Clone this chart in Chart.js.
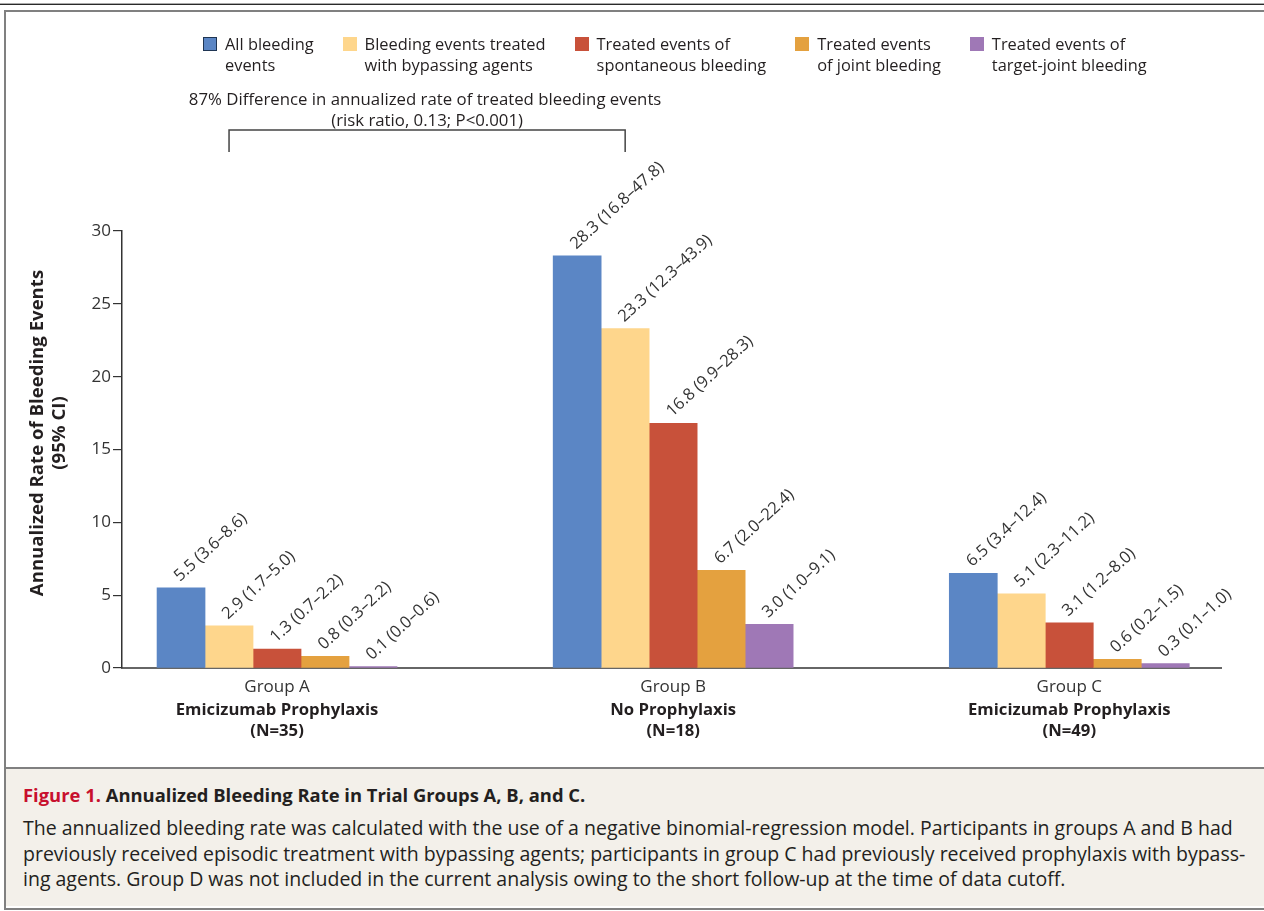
<!DOCTYPE html>
<html lang="en">
<head>
  <meta charset="UTF-8" />
  <title>Annualized Bleeding Rate in Trial Groups A, B, and C</title>
  <script src="https://cdn.jsdelivr.net/npm/chart.js"></script>
  <style>
    body { margin: 0; width: 1264px; height: 911px; overflow: hidden; position: relative; background: #fff; font-family: 'Open Sans', sans-serif; color: #231f20; }
    #topLine { position: absolute; left: 0; top: 3px; width: 1264px; height: 2px; background: #2a2a2a; border-top: 1px solid #aaa; box-sizing: border-box; }
    #frame { position: absolute; left: 4px; top: 10px; width: 1280px; height: 900px; border: 2px solid #808080; box-sizing: border-box; background: #fff; }
    #chartBox { position: relative; width: 1258px; height: 755px; }
    #legend { position: absolute; left: 197px; top: 21px; display: flex; gap: 29px; font-size: 16.4px; line-height: 21px; color: #231f20; }
    .item { display: flex; align-items: flex-start; }
    .swatch { width: 14px; height: 14px; margin: 4px 8px 0 0; box-sizing: border-box; }
    #caption { border-top: 2px solid #808080; background: #f3f0ea; height: 139px; padding: 12px 0 0 17px; box-sizing: border-box; white-space: nowrap; }
    #caption .title { font-weight: 700; font-size: 18.4px; line-height: 28px; margin-bottom: 6px; }
    #caption .title span { color: #c8102e; }
    #caption .body { font-size: 19.5px; line-height: 25.5px; }
  </style>
</head>
<body>
  <div id="topLine"></div>
  <div id="frame">
    <div id="chartBox">
      <canvas id="chart"></canvas>
      <div id="legend"></div>
    </div>
    <div id="caption">
      <div class="title"><span>Figure 1.</span> Annualized Bleeding Rate in Trial Groups A, B, and C.</div>
      <div class="body">The annualized bleeding rate was calculated with the use of a negative binomial-regression model. Participants in groups A and B had<br>previously received episodic treatment with bypassing agents; participants in group C had previously received prophylaxis with bypass-<br>ing agents. Group D was not included in the current analysis owing to the short follow-up at the time of data cutoff.</div>
    </div>
  </div>

  <script>
    // data
    const groups = ['Group A', 'Group B', 'Group C'];
    const groupNames = ['Emicizumab Prophylaxis', 'No Prophylaxis', 'Emicizumab Prophylaxis'];
    const groupN = ['(N=35)', '(N=18)', '(N=49)'];

    const seriesNames = [
      ['All bleeding', 'events'],
      ['Bleeding events treated', 'with bypassing agents'],
      ['Treated events of', 'spontaneous bleeding'],
      ['Treated events', 'of joint bleeding'],
      ['Treated events of', 'target-joint bleeding']
    ];
    const seriesColors = ['#5b86c5', '#fed68c', '#c8513a', '#e4a13f', '#9f78b6'];

    const allBleeding = [5.5, 28.3, 6.5];
    const allBleedingCI = ['3.6–8.6', '16.8–47.8', '3.4–12.4'];
    const bypassTreated = [2.9, 23.3, 5.1];
    const bypassTreatedCI = ['1.7–5.0', '12.3–43.9', '2.3–11.2'];
    const spontaneous = [1.3, 16.8, 3.1];
    const spontaneousCI = ['0.7–2.2', '9.9–28.3', '1.2–8.0'];
    const jointBleeding = [0.8, 6.7, 0.6];
    const jointBleedingCI = ['0.3–2.2', '2.0–22.4', '0.2–1.5'];
    const targetJoint = [0.1, 3.0, 0.3];
    const targetJointCI = ['0.0–0.6', '1.0–9.1', '0.1–1.0'];

    const yTicks = [0, 5, 10, 15, 20, 25, 30];
    const yTitle = ['Annualized Rate of Bleeding Events', '(95% CI)'];
    const bracketText = ['87% Difference in annualized rate of treated bleeding events', '(risk ratio, 0.13; P<0.001)'];

    const values = [allBleeding, bypassTreated, spontaneous, jointBleeding, targetJoint];
    const cis = [allBleedingCI, bypassTreatedCI, spontaneousCI, jointBleedingCI, targetJointCI];

    const FONT = "'Open Sans', sans-serif";
    const TEXT = '#231f20';
    const LABEL_ANGLE = -42.5 * Math.PI / 180;

    // legend (html)
    const legend = document.getElementById('legend');
    seriesNames.forEach((lines, i) => {
      const item = document.createElement('div');
      item.className = 'item';
      const sw = document.createElement('div');
      sw.className = 'swatch';
      sw.style.background = seriesColors[i];
      if (i === 0) sw.style.border = '1px solid #1f3553';
      const txt = document.createElement('div');
      txt.innerHTML = lines.join('<br>');
      item.appendChild(sw);
      item.appendChild(txt);
      legend.appendChild(item);
    });

    const extras = {
      id: 'extras',
      afterDraw(chart) {
        const ctx = chart.ctx;
        const x = chart.scales.x;
        ctx.save();

        // value labels, rotated
        ctx.font = '16.5px ' + FONT;
        ctx.textAlign = 'left';
        ctx.textBaseline = 'alphabetic';
        ctx.fillStyle = '#333';
        chart.data.datasets.forEach((ds, i) => {
          chart.getDatasetMeta(i).data.forEach((bar, j) => {
            ctx.save();
            ctx.translate(bar.x - 1, bar.y - 6);
            ctx.rotate(LABEL_ANGLE);
            ctx.fillText(values[i][j].toFixed(1) + ' (' + cis[i][j] + ')', 0, 0);
            ctx.restore();
          });
        });

        // group labels under axis
        ctx.textAlign = 'center';
        ctx.textBaseline = 'middle';
        groups.forEach((g, j) => {
          const px = x.getPixelForValue(j);
          ctx.font = '17px ' + FONT;
          ctx.fillStyle = '#333';
          ctx.fillText(g, px, 675);
          ctx.font = 'bold 16.7px ' + FONT;
          ctx.fillStyle = TEXT;
          ctx.fillText(groupNames[j], px, 698);
          ctx.fillText(groupN[j], px, 719);
        });

        // y title
        ctx.save();
        ctx.translate(32, 421);
        ctx.rotate(-Math.PI / 2);
        ctx.font = 'bold 18.6px ' + FONT;
        ctx.fillStyle = TEXT;
        ctx.fillText(yTitle[0], 0, 0);
        ctx.fillText(yTitle[1], 0, 22);
        ctx.restore();

        // bracket between treated-with-bypassing bars of A and B
        const meta = chart.getDatasetMeta(1).data;
        const x1 = meta[0].x, x2 = meta[1].x;
        ctx.strokeStyle = '#444';
        ctx.lineWidth = 1.5;
        ctx.beginPath();
        ctx.moveTo(x1, 140);
        ctx.lineTo(x1, 118);
        ctx.lineTo(x2, 118);
        ctx.lineTo(x2, 140);
        ctx.stroke();
        ctx.font = '16.8px ' + FONT;
        ctx.fillStyle = TEXT;
        ctx.fillText(bracketText[0], (x1 + x2) / 2 - 2, 88);
        ctx.fillText(bracketText[1], (x1 + x2) / 2, 109);

        ctx.restore();
      }
    };

    new Chart(document.getElementById('chart'), {
      type: 'bar',
      data: {
        datasets: values.map((vals, i) => ({
          label: seriesNames[i].join(' '),
          data: vals.map((v, j) => ({ x: j, y: v })),
          backgroundColor: seriesColors[i],
          borderWidth: 0,
          barThickness: 48
        }))
      },
      options: {
        responsive: true,
        maintainAspectRatio: false,
        animation: false,
        layout: { padding: { top: 219, right: 43, bottom: 99, left: 0 } },
        plugins: { legend: { display: false }, tooltip: { enabled: false } },
        scales: {
          x: {
            type: 'linear',
            offset: false,
            min: -0.3914,
            max: 2.383,
            ticks: { display: false },
            grid: { display: false, offset: false },
            border: { display: true, color: '#666', width: 2 },
            afterFit(s) { s.height = 0; }
          },
          y: {
            min: 0,
            max: 30,
            afterBuildTicks(s) { s.ticks = yTicks.map(v => ({ value: v })); },
            ticks: { color: '#333', font: { family: FONT, size: 17 }, padding: 2 },
            grid: { drawOnChartArea: false, drawTicks: true, tickLength: 9, color: '#333', lineWidth: 1.2 },
            border: { color: '#333', width: 1.5 },
            afterFit(s) { s.width = 116; }
          }
        }
      },
      plugins: [extras]
    });
  </script>
</body>
</html>
